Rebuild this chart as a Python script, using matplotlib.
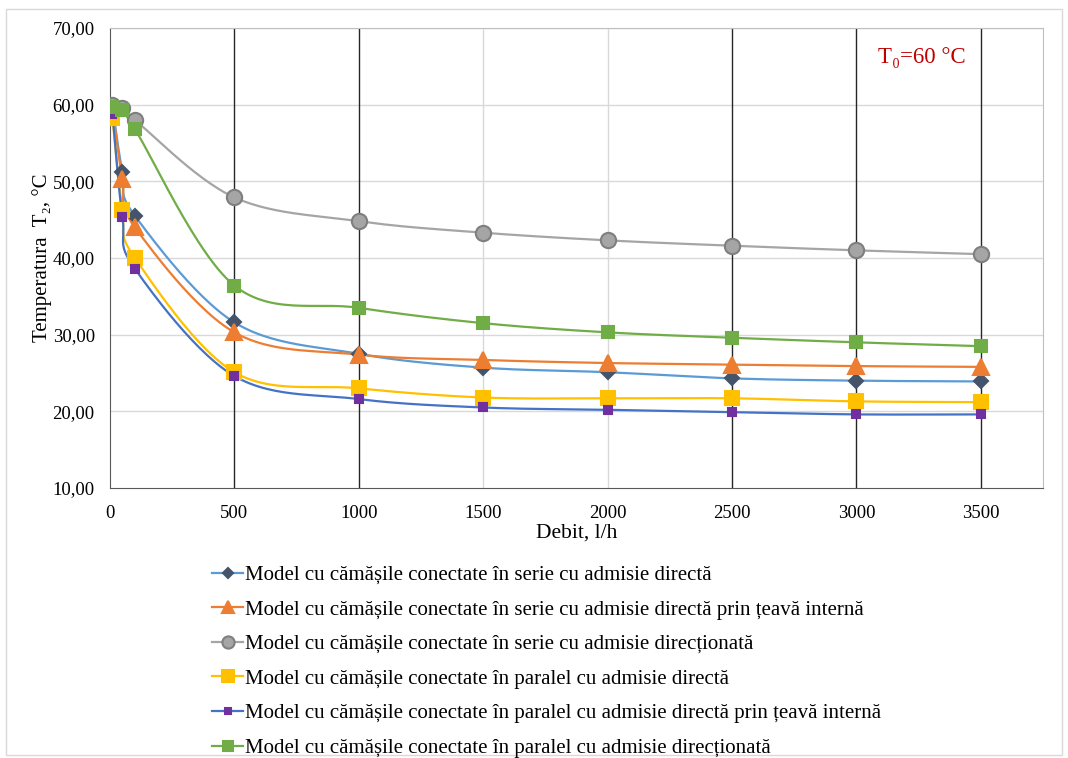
import numpy as np
import matplotlib
matplotlib.use("Agg")
import matplotlib.pyplot as plt
from matplotlib.lines import Line2D
from matplotlib.patches import Rectangle

plt.rcParams['font.family'] = ['Liberation Serif', 'DejaVu Serif']

# Data
debit = [10, 50, 100, 500, 1000, 1500, 2000, 2500, 3000, 3500]
serie_directa = [59.8, 51.2, 45.5, 31.6, 27.5, 25.7, 25.1, 24.3, 24.0, 23.9]
serie_teava = [59.5, 50.3, 44.0, 30.3, 27.4, 26.7, 26.3, 26.1, 25.9, 25.8]
serie_directionata = [59.9, 59.6, 58.0, 47.9, 44.8, 43.3, 42.3, 41.6, 41.0, 40.5]
paralel_directa = [58.2, 46.3, 40.0, 25.1, 23.0, 21.8, 21.7, 21.7, 21.3, 21.2]
paralel_teava = [58.8, 45.3, 38.6, 24.6, 21.6, 20.5, 20.2, 19.9, 19.6, 19.6]
paralel_directionata = [59.7, 59.3, 56.8, 36.4, 33.5, 31.5, 30.3, 29.6, 29.0, 28.5]

labels = [
    "Model cu cămășile conectate în serie cu admisie directă",
    "Model cu cămășile conectate în serie cu admisie directă prin țeavă internă",
    "Model cu cămășile conectate în serie cu admisie direcționată",
    "Model cu cămășile conectate în paralel cu admisie directă",
    "Model cu cămășile conectate în paralel cu admisie directă prin țeavă internă",
    "Model cu cămășile conectate în paralel cu admisie direcționată",
]
series = [serie_directa, serie_teava, serie_directionata,
          paralel_directa, paralel_teava, paralel_directionata]

# line color, marker, marker face, marker edge, marker size
styles = [
    ("#5B9BD5", "D", "#44546A", "#44546A", 7),
    ("#ED7D31", "^", "#ED7D31", "#ED7D31", 11),
    ("#A5A5A5", "o", "#A5A5A5", "#7F7F7F", 11),
    ("#FFC000", "s", "#FFC000", "#FFC000", 10),
    ("#4472C4", "s", "#7030A0", "#7030A0", 6),
    ("#70AD47", "s", "#70AD47", "#70AD47", 9),
]

dark_vlines = [500, 1000, 2500, 3000, 3500]
light_vlines = [1500, 2000]

XMAX, YMIN, YMAX = 3750, 10, 70


def smooth(xs, ys, n=30):
    # Catmull-Rom spline in screen-like normalized coordinates (Excel smoothed line)
    sx, sy = 933.0 / XMAX, 460.0 / (YMAX - YMIN)
    p = np.column_stack([np.array(xs) * sx, np.array(ys) * sy])
    p = np.vstack([p[0], p, p[-1]])
    out = []
    for i in range(1, len(p) - 2):
        p0, p1, p2, p3 = p[i - 1], p[i], p[i + 1], p[i + 2]
        t = np.linspace(0, 1, n)[:, None]
        c = 0.5 * ((2 * p1) + (-p0 + p2) * t + (2 * p0 - 5 * p1 + 4 * p2 - p3) * t ** 2
                   + (-p0 + 3 * p1 - 3 * p2 + p3) * t ** 3)
        out.append(c)
    c = np.vstack(out)
    return c[:, 0] / sx, c[:, 1] / sy


fig = plt.figure(figsize=(10.68, 7.58), dpi=100)
fig.patches.append(Rectangle((6 / 1068, 3 / 758), 1056 / 1068, 746 / 758,
                             transform=fig.transFigure, fill=False,
                             edgecolor="#D9D9D9", linewidth=1))
ax = fig.add_axes([110 / 1068, 1 - 488 / 758, 933 / 1068, 460 / 758])

ax.set_xlim(0, XMAX)
ax.set_ylim(YMIN, YMAX)
ax.set_yticks(np.arange(10, 71, 10))
ax.set_yticklabels([f"{v:.2f}".replace(".", ",") for v in np.arange(10, 71, 10)])
ax.set_xticks(np.arange(0, 3501, 500))
ax.tick_params(axis="y", length=0, labelsize=13.5, pad=11)
ax.tick_params(axis="x", length=0, labelsize=13.5, pad=12)

for y in np.arange(20, 71, 10):
    ax.axhline(y, color="#D9D9D9", linewidth=1, zorder=0)
for x in light_vlines:
    ax.axvline(x, color="#D9D9D9", linewidth=1, zorder=0)
for x in dark_vlines:
    ax.axvline(x, color="#262626", linewidth=1, zorder=0)

for s in ax.spines.values():
    s.set_color("#BFBFBF")
ax.spines['left'].set_color("#595959")
ax.spines['bottom'].set_color("#595959")

handles = []
for ys, (lc, m, mf, me, ms), lab in zip(series, styles, labels):
    xs_s, ys_s = smooth(debit, ys)
    ax.plot(xs_s, ys_s, color=lc, linewidth=1.6, zorder=2)
    ax.plot(debit, ys, linestyle="none", marker=m, markerfacecolor=mf,
            markeredgecolor=me, markersize=ms, markeredgewidth=1.5, zorder=3)
    handles.append(Line2D([], [], color=lc, linewidth=1.6, marker=m,
                          markerfacecolor=mf, markeredgecolor=me,
                          markersize=ms * 0.8, markeredgewidth=1.5, label=lab))

ax.set_xlabel("Debit, l/h", fontsize=15.5)
ax.xaxis.set_label_coords(0.5, -(524 - 488) / 460)
ax.set_ylabel("Temperatura  T₂, °C", fontsize=15)
ax.yaxis.set_label_coords(-(110 - 52) / 933, 0.5)

ax.text((922 - 110) / 933, 1 - (57 - 28) / 460, "T₀=60 °C", transform=ax.transAxes,
        color="#C00000", fontsize=16.5, ha="center", va="center")

fig.legend(handles=handles, loc="upper left",
           bbox_to_anchor=(202 / 1068, 1 - 555 / 758), frameon=False,
           fontsize=15, labelspacing=0.72, handlelength=1.45,
           handletextpad=0.1, borderpad=0)

fig.savefig("out.png", dpi=100)
